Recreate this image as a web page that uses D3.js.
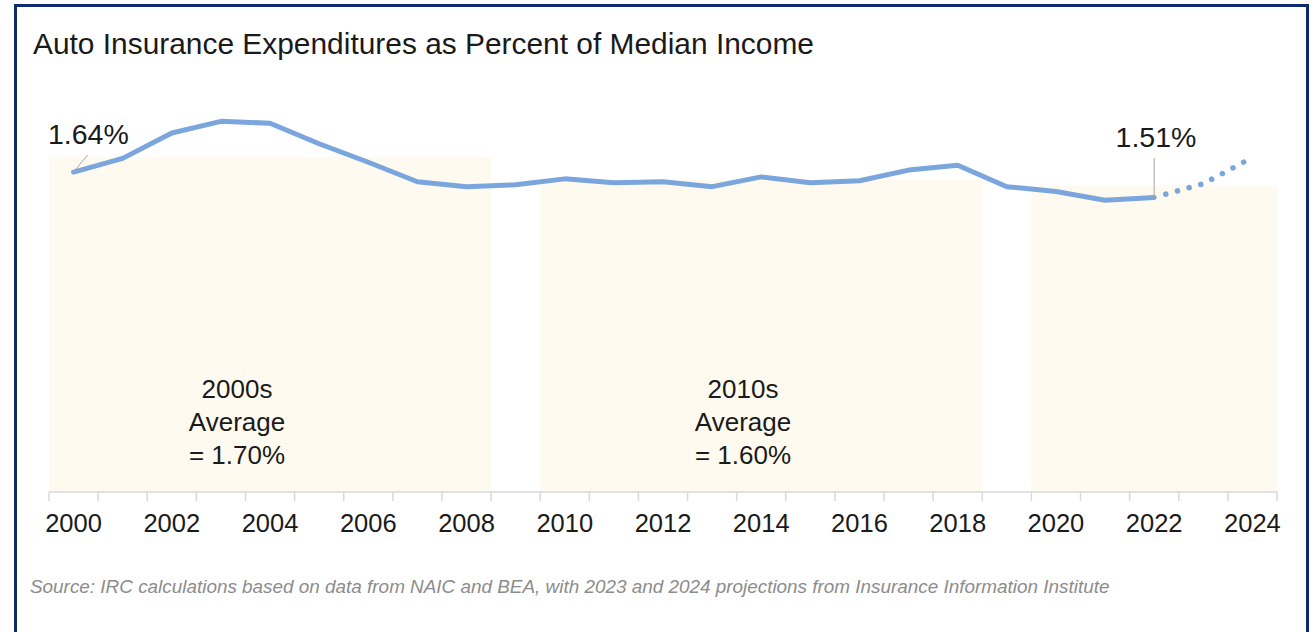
<!DOCTYPE html>
<html>
<head>
<meta charset="utf-8">
<script src="https://cdn.jsdelivr.net/npm/d3@7"></script>
<style>
  html, body { margin: 0; padding: 0; background: #ffffff; }
  svg { display: block; }
  text { font-family: Arial, "Liberation Sans", sans-serif; }
</style>
</head>
<body>
<svg id="chart" width="1316" height="632"></svg>
<script>
// ---------- data ----------
const years = ["2000","2001","2002","2003","2004","2005","2006","2007","2008","2009",
               "2010","2011","2012","2013","2014","2015","2016","2017","2018","2019",
               "2020","2021","2022","2023","2024"];
const actualYears = years.slice(0, 23);               // 2000–2022
const actualValues = [1.64, 1.71, 1.84, 1.90, 1.89, 1.785, 1.69, 1.59, 1.565, 1.575,
                      1.605, 1.585, 1.59, 1.565, 1.615, 1.585, 1.595, 1.65, 1.675, 1.565,
                      1.54, 1.495, 1.51];
const projYears = ["2022","2023","2024"];
const projValues = [1.51, 1.58, 1.715];
const tickLabels = ["2000","2002","2004","2006","2008","2010","2012","2014","2016","2018","2020","2022","2024"];
const decadeNames = ["2000s","2010s","2020s"];
const decadeStart = ["2000","2010","2020"];
const decadeEnd   = ["2008","2018","2024"];
const decadeAvg   = [1.715, 1.60, 1.57];
const decadeLabelText = [["2000s","Average","= 1.70%"],["2010s","Average","= 1.60%"], null];
const title = "Auto Insurance Expenditures as Percent of Median Income";
const source = "Source: IRC calculations based on data from NAIC and BEA, with 2023 and 2024 projections from Insurance Information Institute";

// ---------- layout ----------
const svg = d3.select("#chart");
const x = d3.scaleBand().domain(years).range([49, 1277]).padding(0);
const y = d3.scaleLinear().domain([0, 2]).range([492, 101.8]);
const cx = d => x(d) + x.bandwidth() / 2;

// frame
svg.append("rect").attr("x", 15.5).attr("y", 5.5).attr("width", 1292).attr("height", 660)
  .attr("fill", "none").attr("stroke", "#0f2b6b").attr("stroke-width", 3);

// title
svg.append("text").attr("x", 33).attr("y", 54).attr("font-size", 29.9).attr("fill", "#1a1a1a")
  .text(title);

// decade shading
svg.append("g").selectAll("rect").data(decadeNames).join("rect")
  .attr("x", (d, i) => x(decadeStart[i]))
  .attr("width", (d, i) => x(decadeEnd[i]) + x.bandwidth() - x(decadeStart[i]))
  .attr("y", (d, i) => y(decadeAvg[i]))
  .attr("height", (d, i) => y(0) - y(decadeAvg[i]))
  .attr("fill", "#fefaf0");

// decade labels
const labelCenters = [237, 743];
decadeLabelText.forEach((lines, i) => {
  if (!lines) return;
  const t = svg.append("text").attr("text-anchor", "middle").attr("font-size", 26).attr("fill", "#1a1a1a");
  lines.forEach((s, j) => {
    t.append("tspan").attr("x", labelCenters[i]).attr("y", 398 + j * 33).text(s);
  });
});

// x axis
const gx = svg.append("g").attr("transform", `translate(0,${y(0)})`);
gx.append("line").attr("x1", x.range()[0]).attr("x2", x.range()[1]).attr("stroke", "#d9d9d9").attr("stroke-width", 1.5);
gx.selectAll("line.tk").data(years.concat(["end"])).join("line").attr("class", "tk")
  .attr("x1", d => d === "end" ? x.range()[1] : x(d))
  .attr("x2", d => d === "end" ? x.range()[1] : x(d))
  .attr("y1", 0).attr("y2", 9).attr("stroke", "#d9d9d9").attr("stroke-width", 1.5);
gx.selectAll("text").data(tickLabels).join("text")
  .attr("x", d => cx(d)).attr("y", 40).attr("text-anchor", "middle")
  .attr("font-size", 25.5).attr("fill", "#1a1a1a").text(d => d);

// line
const line = d3.line().x(d => cx(d[0])).y(d => y(d[1]));
svg.append("path").datum(actualYears.map((d, i) => [d, actualValues[i]]))
  .attr("d", line).attr("fill", "none").attr("stroke", "#7ba6dd").attr("stroke-width", 5)
  .attr("stroke-linejoin", "round").attr("stroke-linecap", "round");
svg.append("path").datum(projYears.map((d, i) => [d, projValues[i]]))
  .attr("d", line).attr("fill", "none").attr("stroke", "#7ba6dd").attr("stroke-width", 5.5)
  .attr("stroke-linecap", "round").attr("stroke-dasharray", "0.1 12").attr("stroke-dashoffset", -12);

// annotations
const firstX = cx("2000"), firstY = y(actualValues[0]);
svg.append("line").attr("x1", firstX).attr("y1", firstY).attr("x2", firstX + 14).attr("y2", firstY - 17)
  .attr("stroke", "#a6a6a6").attr("stroke-width", 1);
svg.append("text").attr("x", 48).attr("y", 144).attr("font-size", 28.5).attr("fill", "#1a1a1a")
  .text(d3.format(".2f")(actualValues[0]) + "%");
const lastX = cx("2022"), lastY = y(actualValues[22]);
svg.append("line").attr("x1", lastX).attr("y1", lastY).attr("x2", lastX).attr("y2", 158)
  .attr("stroke", "#a6a6a6").attr("stroke-width", 1);
svg.append("text").attr("x", 1156).attr("y", 147).attr("text-anchor", "middle").attr("font-size", 28.5).attr("fill", "#1a1a1a")
  .text(d3.format(".2f")(actualValues[22]) + "%");

// source
svg.append("text").attr("x", 30).attr("y", 593).attr("font-size", 18.9).attr("font-style", "italic")
  .attr("fill", "#8c8c8c").text(source);
</script>
</body>
</html>
